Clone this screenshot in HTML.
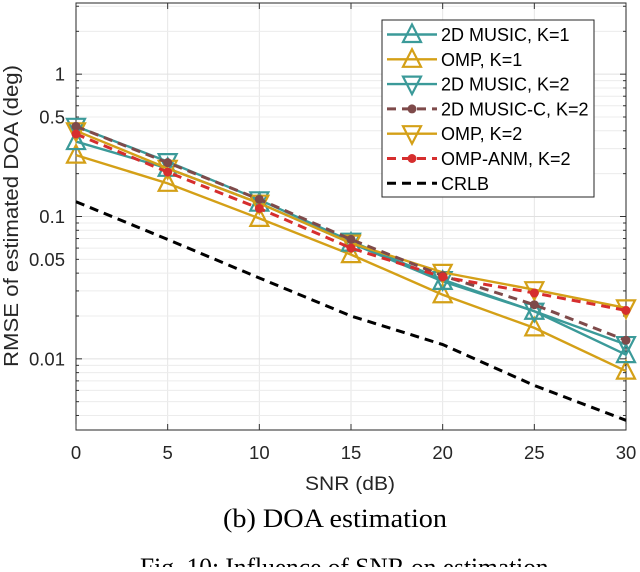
<!DOCTYPE html>
<html><head><meta charset="utf-8"><style>
body{margin:0;background:#fff;width:640px;height:567px;overflow:hidden}
svg text{font-family:"Liberation Sans",sans-serif}
</style></head><body>
<svg id="c" width="640" height="567" viewBox="0 0 640 567"></svg>
<script>
const snr=[0,5,10,15,20,25,30];
const music1=[0.336,0.218,0.124,0.065,0.035,0.0216,0.0107];
const omp1=[0.27,0.171,0.097,0.054,0.0282,0.0165,0.0082];
const music2=[0.43,0.243,0.131,0.067,0.036,0.0216,0.0126];
const musicC2=[0.43,0.239,0.132,0.069,0.0384,0.024,0.0135];
const omp2=[0.40,0.218,0.124,0.065,0.0405,0.0306,0.0228];
const ompAnm2=[0.38,0.205,0.114,0.060,0.0376,0.029,0.0219];
const crlb=[0.127,0.069,0.037,0.020,0.0126,0.0065,0.0037];
const xTicks=[0,5,10,15,20,25,30];
const yTicks=[0.01,0.05,0.1,0.5,1];
const yTickLabels=["0.01","0.05","0.1","0.5","1"];
const L=76,R=626,T=3,B=430,ymin=-2.5,ymax=0.5;
const X=v=>L+(v-0)/(30-0)*(R-L);
const Y=v=>B-(Math.log10(v)-ymin)/(ymax-ymin)*(B-T);
const svg=document.getElementById('c');const NS='http://www.w3.org/2000/svg';
function mk(t,a,p){const e=document.createElementNS(NS,t);for(const k in a)e.setAttribute(k,a[k]);(p||svg).appendChild(e);return e;}
const grid=mk('g',{});


for(const v of xTicks){mk('line',{x1:X(v),x2:X(v),y1:T,y2:B,stroke:'#e6e6e6','stroke-width':1},grid);}
for(let d=-3;d<=0;d++)for(let m=1;m<10;m++){const v=m*Math.pow(10,d);const lg=Math.log10(v);if(lg<ymin-1e-9||lg>ymax)continue;
 mk('line',{x1:L,x2:R,y1:Y(v),y2:Y(v),stroke:m==1?'#e0e0e0':'#ececec','stroke-width':1},grid);
 mk('line',{x1:L,x2:L+(m==1?6:3),y1:Y(v),y2:Y(v),stroke:'#333'},grid);
 mk('line',{x1:R,x2:R-(m==1?6:3),y1:Y(v),y2:Y(v),stroke:'#333'},grid);}
mk('rect',{x:L,y:T,width:R-L,height:B-T,fill:'none',stroke:'#262626','stroke-width':1});
xTicks.forEach(v=>{mk('line',{x1:X(v),x2:X(v),y1:B,y2:B-6,stroke:'#333'});mk('line',{x1:X(v),x2:X(v),y1:T,y2:T+6,stroke:'#333'});
 const t=mk('text',{x:X(v),y:459,'text-anchor':'middle','font-size':18.5,fill:'#262626'});t.textContent=v;
 });
yTicks.forEach((v,i)=>{const t=mk('text',{x:L-11,y:Y(v)+6.5,'text-anchor':'end','font-size':18.5,fill:'#262626'});t.textContent=yTickLabels[i];
 });
const teal='#3b9a99',gold='#d4a017',brown='#7e4a4a',red='#d62e2e';
function tri(g,x,y,up,c){const w=9,h=10;const p=up?`${x},${y-h} ${x-w},${y+h*0.75} ${x+w},${y+h*0.75}`:`${x},${y+h} ${x-w},${y-h*0.75} ${x+w},${y-h*0.75}`;mk('polygon',{points:p,fill:'none',stroke:c,'stroke-width':2.2},g);}
function series(name,data,c,dash,mark){const g=mk('g',{});
 mk('polyline',{points:data.map((v,i)=>X(snr[i])+','+Y(v)).join(' '),fill:'none',stroke:c,'stroke-width':dash?3:2.4,'stroke-dasharray':dash||'none'},g);
 data.forEach((v,i)=>{if(mark=='up')tri(g,X(snr[i]),Y(v),true,c);else if(mark=='down')tri(g,X(snr[i]),Y(v),false,c);else if(mark=='dot')mk('circle',{cx:X(snr[i]),cy:Y(v),r:4.5,fill:c},g);});}
series('crlb-line',crlb,'#000','9,6',null);
series('omp-k1-line',omp1,gold,null,'up');
series('music-k1-line',music1,teal,null,'up');
series('music-k2-line',music2,teal,null,'down');
series('omp-k2-line',omp2,gold,null,'down');
series('music-c-k2-line',musicC2,brown,'9,6','dot');
series('omp-anm-k2-line',ompAnm2,red,'9,6','dot');
const lg=mk('g',{});
mk('rect',{x:382,y:20,width:212,height:177,fill:'#fff',stroke:'#262626'},lg);
const items=[['2D MUSIC, K=1',teal,null,'up'],['OMP, K=1',gold,null,'up'],['2D MUSIC, K=2',teal,null,'down'],['2D MUSIC-C, K=2',brown,'9,6','dot'],['OMP, K=2',gold,null,'down'],['OMP-ANM, K=2',red,'9,6','dot'],['CRLB','#000','9,6',null]];
items.forEach((it,i)=>{const y=34.5+i*24.8;const g=mk('g',{},lg);
 mk('line',{x1:387,x2:437,y1:y,y2:y,stroke:it[1],'stroke-width':it[2]?3:2.4,'stroke-dasharray':it[2]||'none'},g);
 if(it[3]=='up')tri(g,412,y,true,it[1]);else if(it[3]=='down')tri(g,412,y,false,it[1]);else if(it[3]=='dot')mk('circle',{cx:412,cy:y,r:4.5,fill:it[1]},g);
 const t=mk('text',{x:441,y:y+6.5,'font-size':18,fill:'#000'},g);t.textContent=it[0];});
let t=mk('text',{x:350,y:490,'text-anchor':'middle','font-size':19.5,fill:'#262626',textLength:90,lengthAdjust:'spacingAndGlyphs'});t.textContent='SNR (dB)';
t=mk('text',{x:0,y:0,'text-anchor':'middle','font-size':20,fill:'#262626',transform:'translate(18,216) rotate(-90)',textLength:302,lengthAdjust:'spacingAndGlyphs'});t.textContent='RMSE of estimated DOA (deg)';
t=mk('text',{x:335,y:527,'text-anchor':'middle','font-size':26,fill:'#000',style:'font-family:"Liberation Serif",serif',textLength:224,lengthAdjust:'spacingAndGlyphs'});t.textContent='(b) DOA estimation';
t=mk('text',{x:140,y:576,'font-size':26,fill:'#000',style:'font-family:"Liberation Serif",serif',textLength:415,lengthAdjust:'spacingAndGlyphs'});t.textContent='Fig. 10: Influence of SNR on estimation.';
</script>
</body></html>
